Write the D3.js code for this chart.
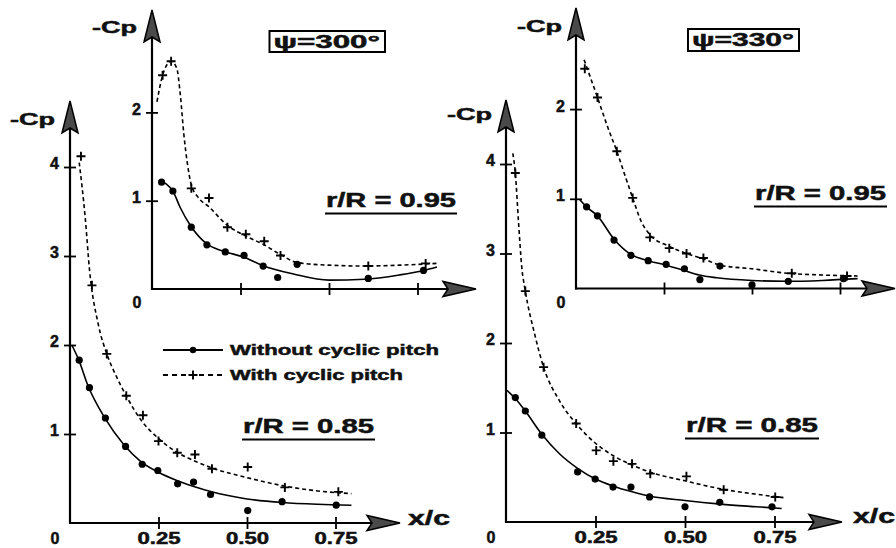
<!DOCTYPE html>
<html lang="en">
<head>
    <meta charset="UTF-8">
    <title>-Cp vs x/c</title>
    <script src="https://cdn.jsdelivr.net/npm/d3@7"></script>
    <style>
        body { margin: 0; background: #fff; }
        svg { display: block; }
        text { font-family: "Liberation Sans", Arial, sans-serif; font-weight: bold; fill: #111; stroke: #111; stroke-width: 0.5px; }
        .tick line { stroke: #000; stroke-width: 1.8; }
        .tick text { font-size: 16px; }
    </style>
</head>
<body>
    <div id="chart-space"></div>

    <script>

        // psi = 300 deg, r/R = 0.85
        var l85Without = [[0.026,1.83],[0.055,1.52],[0.10,1.18],[0.157,0.86],[0.204,0.66],[0.248,0.59],[0.304,0.44],[0.349,0.46],[0.397,0.32],[0.502,0.14],[0.599,0.24],[0.752,0.20]];
        var l85WithoutFit = [[0.005,2.0],[0.025,1.83],[0.05,1.55],[0.1,1.17],[0.15,0.89],[0.2,0.69],[0.25,0.57],[0.3,0.48],[0.35,0.41],[0.4,0.35],[0.5,0.27],[0.6,0.23],[0.7,0.21],[0.795,0.20]];
        var l85With = [[0.031,4.12],[0.062,2.67],[0.104,1.90],[0.159,1.43],[0.206,1.21],[0.25,0.92],[0.303,0.79],[0.353,0.77],[0.401,0.61],[0.502,0.63],[0.607,0.40],[0.758,0.35]];
        var l85WithFit = [[0.026,4.05],[0.043,3.43],[0.055,2.85],[0.08,2.23],[0.104,1.9],[0.133,1.63],[0.16,1.42],[0.2,1.16],[0.25,0.95],[0.3,0.8],[0.35,0.70],[0.4,0.62],[0.5,0.51],[0.6,0.42],[0.7,0.36],[0.795,0.33]];

        // psi = 300 deg, r/R = 0.95
        var l95Without = [[0.027,1.21],[0.059,1.11],[0.111,0.70],[0.155,0.50],[0.207,0.42],[0.26,0.38],[0.314,0.26],[0.355,0.13],[0.41,0.28],[0.611,0.12],[0.767,0.21]];
        var l95WithoutFit = [[0.02,1.22],[0.04,1.19],[0.06,1.1],[0.08,0.92],[0.11,0.71],[0.155,0.51],[0.2,0.43],[0.26,0.36],[0.31,0.27],[0.4,0.17],[0.5,0.10],[0.6,0.11],[0.7,0.16],[0.767,0.21],[0.805,0.25]];
        var l95With = [[0.03,2.42],[0.054,2.58],[0.111,1.14],[0.161,1.03],[0.213,0.70],[0.265,0.62],[0.317,0.54],[0.363,0.38],[0.611,0.26],[0.773,0.29]];
        var l95WithFit = [[0.014,2.12],[0.03,2.42],[0.054,2.58],[0.07,2.5],[0.08,2.2],[0.09,1.75],[0.1,1.42],[0.111,1.18],[0.13,1.04],[0.161,0.93],[0.213,0.72],[0.265,0.6],[0.317,0.5],[0.363,0.39],[0.41,0.3],[0.5,0.27],[0.6,0.26],[0.7,0.27],[0.805,0.29]];

        // psi = 330 deg, r/R = 0.85
        var r85Without = [[0.026,1.39],[0.054,1.24],[0.10,0.97],[0.20,0.56],[0.249,0.48],[0.299,0.39],[0.349,0.39],[0.401,0.28],[0.50,0.17],[0.597,0.22],[0.743,0.17]];
        var r85WithoutFit = [[0.003,1.47],[0.026,1.38],[0.054,1.24],[0.1,0.98],[0.15,0.76],[0.2,0.6],[0.25,0.48],[0.3,0.4],[0.35,0.34],[0.4,0.29],[0.5,0.24],[0.6,0.2],[0.7,0.17],[0.77,0.15]];
        var r85With = [[0.026,3.9],[0.054,2.58],[0.105,1.73],[0.196,1.10],[0.252,0.80],[0.30,0.68],[0.352,0.65],[0.403,0.54],[0.504,0.51],[0.608,0.36],[0.752,0.28]];
        var r85WithFit = [[0.019,4.12],[0.026,3.9],[0.035,3.35],[0.044,2.85],[0.054,2.58],[0.08,2.1],[0.105,1.73],[0.15,1.35],[0.2,1.08],[0.25,0.88],[0.3,0.74],[0.35,0.64],[0.4,0.56],[0.5,0.46],[0.6,0.37],[0.7,0.31],[0.78,0.27]];

        // psi = 330 deg, r/R = 0.95
        var r95Without = [[0.030,0.91],[0.061,0.81],[0.108,0.54],[0.156,0.37],[0.205,0.31],[0.256,0.27],[0.308,0.22],[0.352,0.10],[0.409,0.25],[0.50,0.04],[0.603,0.08],[0.76,0.11]];
        var r95WithoutFit = [[0.011,0.99],[0.03,0.91],[0.061,0.81],[0.108,0.55],[0.156,0.38],[0.205,0.31],[0.256,0.26],[0.308,0.2],[0.35,0.15],[0.4,0.12],[0.5,0.09],[0.6,0.08],[0.7,0.09],[0.8,0.11]];
        var r95With = [[0.025,2.45],[0.061,2.13],[0.116,1.53],[0.161,1.01],[0.21,0.57],[0.265,0.45],[0.314,0.39],[0.362,0.34],[0.613,0.17],[0.77,0.14]];
        var r95WithFit = [[0.023,2.55],[0.061,2.13],[0.09,1.8],[0.116,1.53],[0.14,1.25],[0.161,1.01],[0.185,0.75],[0.21,0.6],[0.265,0.47],[0.314,0.39],[0.362,0.33],[0.41,0.26],[0.5,0.22],[0.6,0.17],[0.7,0.15],[0.8,0.14]];

        var mainXTicks = [0.25, 0.5, 0.75];
        var mainYTicks = [1, 2, 3, 4];
        var insetXTicks = [0.25, 0.5, 0.75];
        var insetYTicks = [1, 2];
        var legendLabels = ["Without cyclic pitch", "With cyclic pitch"];

        var width = 896;
        var height = 548;

        var svg = d3.select("#chart-space")
            .append("svg")
            .attr("width", width)
            .attr("height", height);

        // panel geometry: origin in px, px per unit x/c, px per unit -Cp, arrow tips
        var panels = [
            {ox: 70, oy: 523, kx: 354, ky: 89, yTip: 101, xTip: 400, main: true,
             without: l85Without, withoutFit: l85WithoutFit, with: l85With, withFit: l85WithFit},
            {ox: 152, oy: 289, kx: 354, ky: 88.3, yTip: 10, xTip: 476, main: false,
             without: l95Without, withoutFit: l95WithoutFit, with: l95With, withFit: l95WithFit},
            {ox: 506, oy: 522, kx: 358, ky: 89.5, yTip: 100, xTip: 842, main: true,
             without: r85Without, withoutFit: r85WithoutFit, with: r85With, withFit: r85WithFit},
            {ox: 576, oy: 288.5, kx: 352, ky: 89.7, yTip: 8, xTip: 895, main: false,
             without: r95Without, withoutFit: r95WithoutFit, with: r95With, withFit: r95WithFit}
        ];

        function upArrow(x, tip) {
            var L = 32, w = 8, n = 5;
            return "M" + x + "," + tip + "L" + (x + w) + "," + (tip + L) + "L" + x + "," + (tip + L - n) +
                "L" + (x - w) + "," + (tip + L) + "Z";
        }
        function rightArrow(tip, y) {
            var L = 33, w = 7.5, n = 5;
            return "M" + tip + "," + y + "L" + (tip - L) + "," + (y - w) + "L" + (tip - L + n) + "," + y +
                "L" + (tip - L) + "," + (y + w) + "Z";
        }

        function plus(g, x, y) {
            g.append("path")
                .attr("d", "M" + (x - 4.5) + "," + y + "H" + (x + 4.5) + "M" + x + "," + (y - 4.5) + "V" + (y + 4.5))
                .attr("stroke", "#000")
                .attr("stroke-width", 1.9);
        }

        panels.forEach(function(p) {
            var g = svg.append("g");

            var xScale = d3.scaleLinear().domain([0, 1]).range([p.ox, p.ox + p.kx]);
            var yScale = d3.scaleLinear().domain([0, 1]).range([p.oy, p.oy - p.ky]);

            // axis lines + arrow heads
            g.append("line")
                .attr("x1", p.ox).attr("x2", p.ox)
                .attr("y1", p.oy + 1).attr("y2", p.yTip + 28)
                .attr("stroke", "#000").attr("stroke-width", 2.2);
            g.append("line")
                .attr("x1", p.ox - 1).attr("x2", p.xTip - 29)
                .attr("y1", p.oy).attr("y2", p.oy)
                .attr("stroke", "#000").attr("stroke-width", 2.2);
            g.append("path").attr("d", upArrow(p.ox, p.yTip))
                .attr("fill", "#4a4a4a").attr("stroke", "#000").attr("stroke-width", 1.5);
            g.append("path").attr("d", rightArrow(p.xTip, p.oy))
                .attr("fill", "#4a4a4a").attr("stroke", "#000").attr("stroke-width", 1.5);

            // ticks crossing the axis lines
            var yAxis = g.append("g")
                .attr("transform", "translate(" + p.ox + ",0)")
                .call(d3.axisLeft(yScale).tickValues(p.main ? mainYTicks : insetYTicks)
                    .tickSize(6).tickPadding(5).tickFormat(d3.format("d")))
                .call(g => g.select(".domain").remove());
            yAxis.attr("font-family", null).attr("font-size", null);
            yAxis.selectAll(".tick line").attr("x1", 6);
            yAxis.selectAll(".tick text").attr("dy", "0.12em");

            var xAxis = g.append("g")
                .attr("transform", "translate(0," + p.oy + ")")
                .call(d3.axisBottom(xScale).tickValues(p.main ? mainXTicks : insetXTicks)
                    .tickSize(6).tickPadding(4).tickFormat(p.main ? d3.format(".2f") : ""))
                .call(g => g.select(".domain").remove());
            xAxis.attr("font-family", null).attr("font-size", null);
            xAxis.selectAll(".tick line").attr("y1", -6);
            xAxis.selectAll(".tick text").attr("textLength", 43).attr("lengthAdjust", "spacingAndGlyphs");

            g.append("text")
                .attr("x", p.ox - 15)
                .attr("y", p.oy + (p.main ? 21 : 19))
                .attr("text-anchor", "middle")
                .style("font-size", "16px")
                .text("0");

            // curves
            var line = d3.line()
                .x(function(d) { return xScale(d[0]); })
                .y(function(d) { return yScale(d[1]); })
                .curve(d3.curveMonotoneX);

            g.append("path")
                .datum(p.withoutFit)
                .attr("d", line)
                .attr("fill", "none")
                .attr("stroke", "#000")
                .attr("stroke-width", 1.6);

            g.append("path")
                .datum(p.withFit)
                .attr("d", line)
                .attr("fill", "none")
                .attr("stroke", "#000")
                .attr("stroke-width", 1.6)
                .attr("stroke-dasharray", "4,3");

            g.selectAll("circle.pt")
                .data(p.without)
                .join("circle")
                .attr("class", "pt")
                .attr("cx", function(d) { return xScale(d[0]); })
                .attr("cy", function(d) { return yScale(d[1]); })
                .attr("r", 3.6)
                .attr("fill", "#000");

            p.with.forEach(function(d) { plus(g, xScale(d[0]), yScale(d[1])); });
        });

        // axis titles
        var cpLabels = [[10, 125], [92, 33], [447, 120], [517, 32]];
        cpLabels.forEach(function(c) {
            svg.append("text").attr("x", c[0]).attr("y", c[1])
                .attr("textLength", 45).attr("lengthAdjust", "spacingAndGlyphs")
                .style("font-size", "17px").text("-Cp");
        });
        [[408, 525], [853, 523]].forEach(function(c) {
            svg.append("text").attr("x", c[0]).attr("y", c[1])
                .attr("textLength", 42).attr("lengthAdjust", "spacingAndGlyphs")
                .style("font-size", "20px").text("x/c");
        });

        // psi boxes
        [[269.5, 31, 115.5, 21, "ψ=300°"], [688, 29, 111, 22, "ψ=330°"]].forEach(function(b) {
            svg.append("rect").attr("x", b[0]).attr("y", b[1]).attr("width", b[2]).attr("height", b[3])
                .attr("fill", "none").attr("stroke", "#000").attr("stroke-width", 2);
            svg.append("text").attr("x", b[0] + 4).attr("y", b[1] + 17)
                .attr("textLength", b[2] - 9).attr("lengthAdjust", "spacingAndGlyphs")
                .style("font-size", "18px").text(b[4]);
        });

        // r/R labels
        [[326, 207, 130, "r/R = 0.95"], [243, 433, 131, "r/R = 0.85"],
         [755, 200, 131, "r/R = 0.95"], [686, 432, 132, "r/R = 0.85"]].forEach(function(t) {
            svg.append("text").attr("x", t[0]).attr("y", t[1])
                .attr("textLength", t[2]).attr("lengthAdjust", "spacingAndGlyphs")
                .style("font-size", "20px").text(t[3]);
            svg.append("line").attr("x1", t[0] - 1).attr("x2", t[0] + t[2] + 1)
                .attr("y1", t[1] + 6.5).attr("y2", t[1] + 6.5)
                .attr("stroke", "#000").attr("stroke-width", 2);
        });

        // legend
        var legend = svg.append("g");
        legend.append("line").attr("x1", 163).attr("x2", 223).attr("y1", 350).attr("y2", 350)
            .attr("stroke", "#000").attr("stroke-width", 1.8);
        legend.append("circle").attr("cx", 193).attr("cy", 350).attr("r", 3.2).attr("fill", "#000");
        legend.append("line").attr("x1", 163).attr("x2", 223).attr("y1", 375).attr("y2", 375)
            .attr("stroke", "#000").attr("stroke-width", 1.8).attr("stroke-dasharray", "5,4");
        plus(legend, 193, 375);
        legend.append("text").attr("x", 230).attr("y", 355)
            .attr("textLength", 209).attr("lengthAdjust", "spacingAndGlyphs")
            .style("font-size", "15px").text(legendLabels[0]);
        legend.append("text").attr("x", 230).attr("y", 380)
            .attr("textLength", 173).attr("lengthAdjust", "spacingAndGlyphs")
            .style("font-size", "15px").text(legendLabels[1]);
    </script>
</body>
</html>
